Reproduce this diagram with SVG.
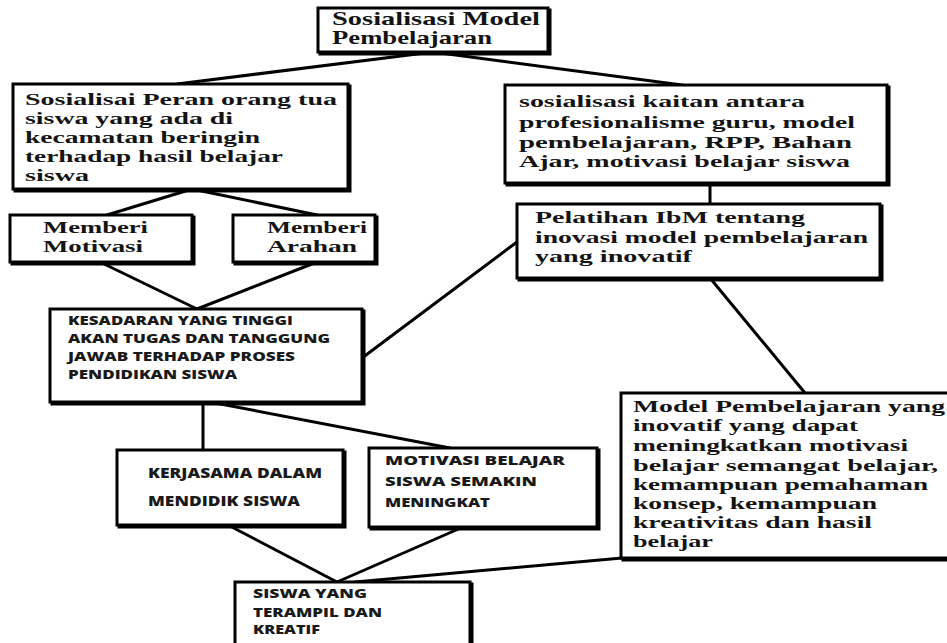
<svg xmlns="http://www.w3.org/2000/svg" width="947" height="643" viewBox="0 0 947 643">
  <defs>
    <!-- hard offset shadow that thickens the right and bottom edges of each box -->
    <filter id="edge" x="-5%" y="-5%" width="115%" height="115%">
      <feFlood flood-color="#000000" result="ink"/>
      <feComposite in="ink" in2="SourceAlpha" operator="in" result="solid"/>
      <feOffset in="solid" dx="2" dy="2" result="shift"/>
      <feMerge>
        <feMergeNode in="shift"/>
        <feMergeNode in="SourceGraphic"/>
      </feMerge>
    </filter>
  </defs>
  <style>
    .box { fill: #ffffff; stroke: #000000; stroke-width: 3; filter: url(#edge); }
    .link { stroke: #000000; stroke-width: 3; fill: none; stroke-linecap: round; }
    .ser { font-family: "Liberation Serif", "Times New Roman", serif; font-weight: bold; font-size: 17px; fill: #141414; }
    .big { font-size: 19px; }
    .sans { font-family: "Open Sans", "Liberation Sans", sans-serif; font-weight: 800; font-size: 12px; fill: #1a1a1a; }
    .sans14 { font-size: 14px; }
  </style>
  <rect width="947" height="643" fill="#ffffff"/>

  <!-- connectors -->
  <g id="connectors">
    <line class="link" x1="433" y1="52" x2="177" y2="84"/>
    <line class="link" x1="433" y1="52" x2="682" y2="85"/>
    <line class="link" x1="192" y1="189" x2="107" y2="215"/>
    <line class="link" x1="192" y1="189" x2="317" y2="215"/>
    <line class="link" x1="710" y1="183" x2="710" y2="204"/>
    <line class="link" x1="100" y1="262" x2="197" y2="309"/>
    <line class="link" x1="317" y1="262" x2="197" y2="309"/>
    <line class="link" x1="517" y1="242" x2="362" y2="358"/>
    <line class="link" x1="710" y1="278" x2="805" y2="393"/>
    <line class="link" x1="203" y1="402" x2="203" y2="450"/>
    <line class="link" x1="210" y1="402" x2="450" y2="448"/>
    <line class="link" x1="228" y1="525" x2="337" y2="582"/>
    <line class="link" x1="463" y1="527" x2="337" y2="582"/>
    <line class="link" x1="622" y1="558" x2="355" y2="582"/>
  </g>

  <!-- top: model socialisation -->
  <g id="n-sosialisasi-model">
    <rect class="box" x="318" y="8" width="230" height="44"/>
    <text class="ser big" x="332" y="25" textLength="208" lengthAdjust="spacingAndGlyphs">Sosialisasi Model</text>
    <text class="ser big" x="332" y="44" textLength="160" lengthAdjust="spacingAndGlyphs">Pembelajaran</text>
  </g>

  <g id="n-peran-orang-tua">
    <rect class="box" x="13" y="84" width="335" height="105"/>
    <text class="ser" x="25" y="105" textLength="312" lengthAdjust="spacingAndGlyphs">Sosialisai Peran orang tua</text>
    <text class="ser" x="25" y="124" textLength="208" lengthAdjust="spacingAndGlyphs">siswa yang ada di</text>
    <text class="ser" x="25" y="143" textLength="235" lengthAdjust="spacingAndGlyphs">kecamatan beringin</text>
    <text class="ser" x="25" y="162" textLength="258" lengthAdjust="spacingAndGlyphs">terhadap hasil belajar</text>
    <text class="ser" x="25" y="181" textLength="64" lengthAdjust="spacingAndGlyphs">siswa</text>
  </g>

  <g id="n-kaitan">
    <rect class="box" x="505" y="85" width="382" height="98"/>
    <text class="ser" x="519" y="107" textLength="286" lengthAdjust="spacingAndGlyphs">sosialisasi kaitan antara</text>
    <text class="ser" x="519" y="128" textLength="336" lengthAdjust="spacingAndGlyphs">profesionalisme guru, model</text>
    <text class="ser" x="519" y="148" textLength="333" lengthAdjust="spacingAndGlyphs">pembelajaran, RPP, Bahan</text>
    <text class="ser" x="519" y="167" textLength="331" lengthAdjust="spacingAndGlyphs">Ajar, motivasi belajar siswa</text>
  </g>

  <g id="n-memberi-motivasi">
    <rect class="box" x="10" y="215" width="182" height="47"/>
    <text class="ser" x="43" y="233" textLength="105" lengthAdjust="spacingAndGlyphs">Memberi</text>
    <text class="ser" x="43" y="252" textLength="100" lengthAdjust="spacingAndGlyphs">Motivasi</text>
  </g>

  <g id="n-memberi-arahan">
    <rect class="box" x="233" y="215" width="142" height="47"/>
    <text class="ser" x="267" y="233" textLength="100" lengthAdjust="spacingAndGlyphs">Memberi</text>
    <text class="ser" x="267" y="252" textLength="90" lengthAdjust="spacingAndGlyphs">Arahan</text>
  </g>

  <g id="n-pelatihan">
    <rect class="box" x="517" y="204" width="363" height="74"/>
    <text class="ser" x="535" y="223" textLength="270" lengthAdjust="spacingAndGlyphs">Pelatihan IbM tentang</text>
    <text class="ser" x="535" y="243" textLength="333" lengthAdjust="spacingAndGlyphs">inovasi model pembelajaran</text>
    <text class="ser" x="535" y="262" textLength="157" lengthAdjust="spacingAndGlyphs">yang inovatif</text>
  </g>

  <g id="n-kesadaran">
    <rect class="box" x="50" y="309" width="312" height="93"/>
    <text class="sans" x="68" y="325" textLength="225" lengthAdjust="spacingAndGlyphs">KESADARAN YANG TINGGI</text>
    <text class="sans" x="68" y="343" textLength="262" lengthAdjust="spacingAndGlyphs">AKAN TUGAS DAN TANGGUNG</text>
    <text class="sans" x="68" y="361" textLength="227" lengthAdjust="spacingAndGlyphs">JAWAB TERHADAP PROSES</text>
    <text class="sans" x="68" y="379" textLength="169" lengthAdjust="spacingAndGlyphs">PENDIDIKAN SISWA</text>
  </g>

  <g id="n-model-inovatif">
    <rect class="box" x="621" y="393" width="330" height="165"/>
    <text class="ser" x="633" y="412" textLength="312" lengthAdjust="spacingAndGlyphs">Model Pembelajaran yang</text>
    <text class="ser" x="633" y="431" textLength="225" lengthAdjust="spacingAndGlyphs">inovatif yang dapat</text>
    <text class="ser" x="633" y="451" textLength="275" lengthAdjust="spacingAndGlyphs">meningkatkan motivasi</text>
    <text class="ser" x="633" y="471" textLength="305" lengthAdjust="spacingAndGlyphs">belajar semangat belajar,</text>
    <text class="ser" x="633" y="490" textLength="295" lengthAdjust="spacingAndGlyphs">kemampuan pemahaman</text>
    <text class="ser" x="633" y="509" textLength="244" lengthAdjust="spacingAndGlyphs">konsep, kemampuan</text>
    <text class="ser" x="633" y="528" textLength="239" lengthAdjust="spacingAndGlyphs">kreativitas dan hasil</text>
    <text class="ser" x="633" y="547" textLength="80" lengthAdjust="spacingAndGlyphs">belajar</text>
  </g>

  <g id="n-kerjasama">
    <rect class="box" x="117" y="450" width="226" height="75"/>
    <text class="sans sans14" x="148" y="478" textLength="174" lengthAdjust="spacingAndGlyphs">KERJASAMA DALAM</text>
    <text class="sans sans14" x="148" y="506" textLength="152" lengthAdjust="spacingAndGlyphs">MENDIDIK SISWA</text>
  </g>

  <g id="n-motivasi-meningkat">
    <rect class="box" x="369" y="448" width="228" height="79"/>
    <text class="sans" x="385" y="465" textLength="180" lengthAdjust="spacingAndGlyphs">MOTIVASI BELAJAR</text>
    <text class="sans" x="385" y="486" textLength="152" lengthAdjust="spacingAndGlyphs">SISWA SEMAKIN</text>
    <text class="sans" x="385" y="507" textLength="105" lengthAdjust="spacingAndGlyphs">MENINGKAT</text>
  </g>

  <g id="n-siswa-terampil">
    <rect class="box" x="235" y="582" width="235" height="70"/>
    <text class="sans" x="253" y="598" textLength="114" lengthAdjust="spacingAndGlyphs">SISWA YANG</text>
    <text class="sans" x="253" y="617" textLength="129" lengthAdjust="spacingAndGlyphs">TERAMPIL DAN</text>
    <text class="sans" x="253" y="634" textLength="67" lengthAdjust="spacingAndGlyphs">KREATIF</text>
  </g>
</svg>
